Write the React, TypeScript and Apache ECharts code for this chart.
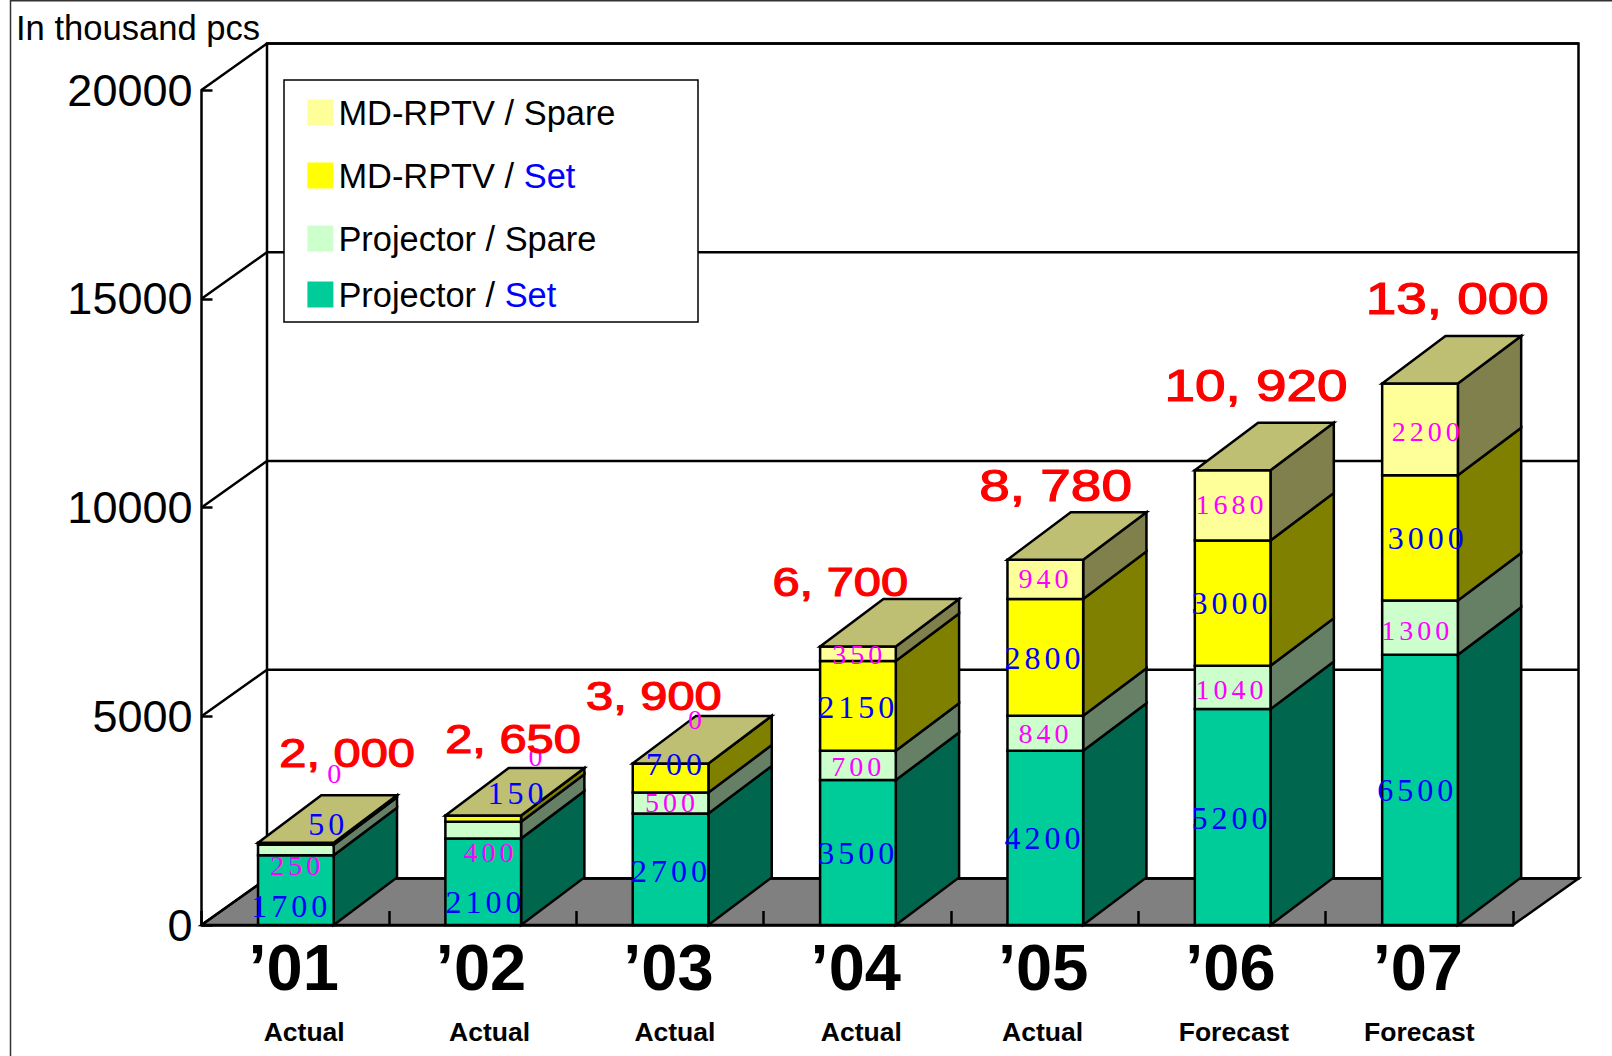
import React, { useEffect, useRef } from "react";
import * as echarts from "echarts";

const CATEGORIES = ["’01", "’02", "’03", "’04", "’05", "’06", "’07"];
const STATUS = ["Actual", "Actual", "Actual", "Actual", "Actual", "Forecast", "Forecast"];
const PROJECTOR_SET = [1700, 2100, 2700, 3500, 4200, 5200, 6500];
const PROJECTOR_SPARE = [250, 400, 500, 700, 840, 1040, 1300];
const MD_SET = [50, 150, 700, 2150, 2800, 3000, 3000];
const MD_SPARE = [0, 0, 0, 350, 940, 1680, 2200];
const TOTAL_LABELS = ["2, 000", "2, 650", "3, 900", "6, 700", "8, 780", "10, 920", "13, 000"];
const Y_TICKS = [0, 5000, 10000, 15000, 20000];
const Y_MAX = 20000;

// label nudges [dx, dy] from the centre of each segment, in pixels
const OFFSET_P_SET = [[-6, 16], [1, 21], [-1, 2], [-1, 1], [-2, 1], [-2.5, 2], [-4, 1]];
const OFFSET_P_SPARE = [[0, 17], [6, 24], [0, 1], [-1, 2], [-1, 1], [-2.5, 3.5], [-4, 4]];
const OFFSET_M_SET = [[31, -19], [33, -24], [4, -13], [-1, 2.5], [-2, 2], [-2.5, 1], [6.5, 1]];
const OFFSET_M_SPARE = [[39, -68.5], [53, -58], [25, -42.5], [0, 2], [-1, 0], [-2.5, 0], [6.5, 3.5]];
const OFFSET_TOTAL = [[52, -88], [30.5, -75], [-16, -66], [-17, -63], [11, -73], [24, -83.5], [38, -83]];
const OFFSET_STATUS = [9, 7, 5, 4, -2, 2, 0];
const TOTAL_FONT_SIZES = [40, 40, 40, 40, 45, 45, 45];

const WALL_DX = 65.5;
const WALL_DY = 46.5;
const BAR_DX = 63.3;
const BAR_DY = 47.5;
const BAR_RATIO = 0.404;
const BAR_SHIFT_X = 0.7;
const BAR_SHIFT_Y = 1.2;
const SANS = "'Liberation Sans', Arial, sans-serif";
const SERIF = "'Liberation Serif', serif";
const LW = 2.5;

const STACKS = [
  { name: "Projector / Set", values: PROJECTOR_SET, offsets: OFFSET_P_SET, face: "#00CC99", side: "#00664D", label: "#0000FF" },
  { name: "Projector / Spare", values: PROJECTOR_SPARE, offsets: OFFSET_P_SPARE, face: "#CCFFCC", side: "#668066", label: "#FF00FF" },
  { name: "MD-RPTV / Set", values: MD_SET, offsets: OFFSET_M_SET, face: "#FFFF00", side: "#808000", label: "#0000FF" },
  { name: "MD-RPTV / Spare", values: MD_SPARE, offsets: OFFSET_M_SPARE, face: "#FFFF99", side: "#80804D", label: "#FF00FF" },
];
const TOP_COLOR = "#BFBF73";

const LEGEND_ROWS = [
  { name: "MD-RPTV / Spare", top: 95.5, color: "#FFFF99" },
  { name: "MD-RPTV / Set", top: 158.5, color: "#FFFF00" },
  { name: "Projector / Spare", top: 221.5, color: "#CCFFCC" },
  { name: "Projector / Set", top: 277.5, color: "#00CC99" },
];

function frameRender(_p: any, api: any) {
  const bw = api.size([1, 0])[0];
  const x0 = api.coord([0, 0])[0] - bw / 2;
  const x1 = api.coord([CATEGORIES.length - 1, 0])[0] + bw / 2;
  const y0 = api.coord([0, 0])[1];
  const yTop = api.coord([0, Y_MAX])[1];
  const line = { stroke: "#000", lineWidth: LW, fill: "none" };
  const children: any[] = [
    {
      type: "rect",
      shape: { x: x0 + WALL_DX, y: yTop - WALL_DY, width: x1 - x0, height: y0 - yTop },
      style: { fill: "#fff", stroke: "#000", lineWidth: LW },
    },
    {
      type: "polygon",
      shape: { points: [[x0, y0], [x1, y0], [x1 + WALL_DX, y0 - WALL_DY], [x0 + WALL_DX, y0 - WALL_DY]] },
      style: { fill: "#808080", stroke: "#000", lineWidth: LW },
    },
  ];
  Y_TICKS.forEach((t) => {
    const y = api.coord([0, t])[1];
    children.push({
      type: "polyline",
      shape: { points: [[x0, y], [x0 + WALL_DX, y - WALL_DY], [x1 + WALL_DX, y - WALL_DY]] },
      style: line,
    });
  });
  return { type: "group", children };
}

function makeStackRender(stackIndex: number) {
  return (_p: any, api: any) => {
    const i = api.value(0);
    const base = api.value(1);
    const top = api.value(2);
    const bw = api.size([1, 0])[0] * BAR_RATIO;
    const cx = api.coord([i, 0])[0] + BAR_SHIFT_X;
    const xl = cx - bw / 2;
    const xr = cx + bw / 2;
    const y0 = api.coord([i, 0])[1];
    const yb = base === 0 ? y0 : api.coord([i, base])[1] + BAR_SHIFT_Y;
    const yt = api.coord([i, top])[1] + BAR_SHIFT_Y;
    const st = STACKS[stackIndex];
    const stroke = { stroke: "#000", lineWidth: LW };
    const children: any[] = [
      {
        type: "polygon",
        shape: { points: [[xr, yb], [xr + BAR_DX, yb - BAR_DY], [xr + BAR_DX, yt - BAR_DY], [xr, yt]] },
        style: { fill: st.side, ...stroke },
      },
      {
        type: "rect",
        shape: { x: xl, y: yt, width: bw, height: yb - yt },
        style: { fill: st.face, ...stroke },
      },
    ];
    if (stackIndex === STACKS.length - 1) {
      children.push({
        type: "polygon",
        shape: { points: [[xl, yt], [xr, yt], [xr + BAR_DX, yt - BAR_DY], [xl + BAR_DX, yt - BAR_DY]] },
        style: { fill: TOP_COLOR, ...stroke },
      });
    }
    return { type: "group", children };
  };
}

function stackData(stackIndex: number) {
  return CATEGORIES.map((_, i) => {
    let base = 0;
    for (let s = 0; s < stackIndex; s++) base += STACKS[s].values[i];
    return [i, base, base + STACKS[stackIndex].values[i]];
  });
}

function labelRender(_p: any, api: any) {
  const i = api.value(0);
  const cx = api.coord([i, 0])[0];
  const children: any[] = [];
  let base = 0;
  STACKS.forEach((st) => {
    const v = st.values[i];
    const [dx, dy] = st.offsets[i];
    const y = api.coord([i, base + v / 2])[1];
    const big = st.label === "#0000FF";
    children.push({
      type: "text",
      x: cx + dx + 2,
      y: y + dy,
      style: {
        text: String(v),
        fill: st.label,
        font: `${big ? 32 : 28}px ${SERIF}`,
        textAlign: "center",
        textVerticalAlign: "middle",
      },
    });
    base += v;
  });
  const yTotal = api.coord([i, base])[1];
  children.push({
    type: "text",
    x: cx + OFFSET_TOTAL[i][0],
    y: yTotal + OFFSET_TOTAL[i][1],
    scaleX: 1.22,
    style: {
      text: TOTAL_LABELS[i],
      fill: "#FF0000",
      stroke: "#FF0000",
      lineWidth: 1.2,
      font: `${TOTAL_FONT_SIZES[i]}px ${SANS}`,
      textAlign: "center",
      textVerticalAlign: "middle",
      textShadowColor: "#BBBBBB",
      textShadowOffsetX: 2,
      textShadowOffsetY: 2,
      textShadowBlur: 0,
    },
  });
  children.push({
    type: "text",
    x: cx + OFFSET_STATUS[i],
    y: 1032,
    style: {
      text: STATUS[i],
      fill: "#000",
      font: `bold 26.5px ${SANS}`,
      textAlign: "center",
      textVerticalAlign: "middle",
      textShadowColor: "#BBBBBB",
      textShadowOffsetX: 1,
      textShadowOffsetY: 1,
      textShadowBlur: 0,
    },
  });
  return { type: "group", children };
}

export default function App() {
  const ref = useRef<HTMLDivElement>(null);
  useEffect(() => {
    const chart = echarts.init(ref.current!, undefined, { renderer: "svg" });
    chart.setOption({
      animation: false,
      backgroundColor: "#fff",
      title: {
        text: "In thousand pcs",
        left: 16,
        top: 10,
        padding: 0,
        textStyle: { fontFamily: SANS, fontSize: 34.6, fontWeight: "normal", color: "#000" },
      },
      grid: { left: 201.5, right: 99, top: 90, bottom: 131 },
      xAxis: {
        type: "category",
        data: CATEGORIES,
        axisLine: { lineStyle: { color: "#000", width: LW } },
        axisTick: { show: true, inside: true, length: 14, alignWithLabel: false, lineStyle: { color: "#000", width: LW } },
        axisLabel: { margin: 10, padding: [0, 3, 0, 0], color: "#000", fontFamily: SANS, fontSize: 65, fontWeight: "bold", interval: 0 },
      },
      yAxis: {
        type: "value",
        min: 0,
        max: Y_MAX,
        interval: 5000,
        axisLine: { show: true, lineStyle: { color: "#000", width: LW } },
        axisTick: { show: true, inside: true, length: 11, lineStyle: { color: "#000", width: LW } },
        axisLabel: { margin: 9, padding: [10, 0, 0, 0], color: "#000", fontFamily: SANS, fontSize: 45, formatter: (v: number) => String(v) },
        splitLine: { show: false },
      },
      legend: LEGEND_ROWS.map((r) => {
        const [head, tail] = r.name.split(" / ");
        return {
          left: 307.4,
          top: r.top,
          padding: 0,
          icon: "rect",
          itemWidth: 26,
          itemHeight: 26,
          itemGap: 1,
          selectedMode: false,
          data: [{ name: r.name, itemStyle: { color: r.color, borderWidth: 0 } }],
          formatter: () => (tail === "Set" ? `{a|${head} / }{b|${tail}}` : `{a|${head} / ${tail}}`),
          textStyle: {
            fontFamily: SANS,
            fontSize: 34.4,
            color: "#000",
            rich: {
              a: { fontFamily: SANS, fontSize: 34.4, color: "#000" },
              b: { fontFamily: SANS, fontSize: 34.4, color: "#0000FF" },
            },
          },
        };
      }),
      graphic: [
        { type: "line", z: 10, shape: { x1: 10.5, y1: 0, x2: 10.5, y2: 1056 }, style: { stroke: "#333", lineWidth: 1.5 } },
        { type: "line", z: 10, shape: { x1: 10, y1: 0.75, x2: 1612, y2: 0.75 }, style: { stroke: "#333", lineWidth: 1.5 } },
        { type: "rect", z: 3, shape: { x: 284, y: 80, width: 414, height: 242 }, style: { fill: "#fff", stroke: "#000", lineWidth: 1.5 } },
      ],
      series: [
        { type: "custom", name: "frame", z: -1, renderItem: frameRender, data: [[0, 0]], silent: true, clip: false },
        ...STACKS.map((s, idx) => ({
          type: "custom",
          name: s.name,
          z: 2,
          itemStyle: { color: s.face },
          renderItem: makeStackRender(idx),
          encode: { x: 0, y: [1, 2] },
          data: stackData(idx),
        })),
        {
          type: "custom",
          name: "labels",
          z: 6,
          renderItem: labelRender,
          encode: { x: 0 },
          data: CATEGORIES.map((_, i) => [i]),
          silent: true,
        },
      ],
    });
    return () => chart.dispose();
  }, []);
  return (
    <>
      <style>{`text[style*="Liberation Serif"]{letter-spacing:4px}`}</style>
      <div ref={ref} style={{ position: "fixed", left: 0, top: 0, width: 1612, height: 1056 }} />
    </>
  );
}
